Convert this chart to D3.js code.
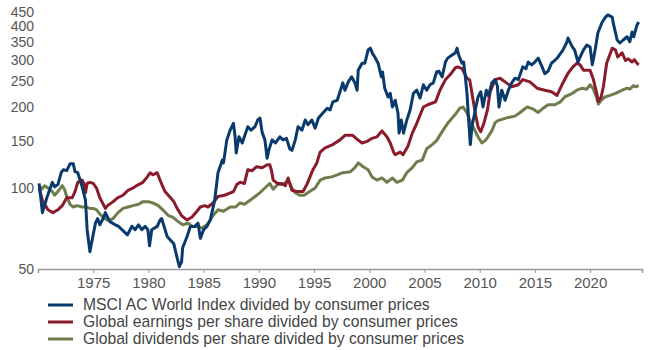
<!DOCTYPE html>
<html>
<head>
<meta charset="utf-8">
<script src="https://cdn.jsdelivr.net/npm/d3@7"></script>
<style>
  body { margin: 0; background: #fff; }
  svg { display: block; font-family: "Liberation Sans", Arial, sans-serif; }
</style>
</head>
<body>
<div id="chart"></div>
<script>
const msci = [
  [1970.1,104],[1970.4,81],[1970.8,92],[1971.3,105],[1971.5,101],[1971.8,103],[1972.1,114],[1972.3,117],
  [1972.6,116],[1972.9,123],[1973.2,123],[1973.35,115],[1973.6,114],[1974.0,101],[1974.3,90],[1974.45,70],
  [1974.7,58],[1974.9,64],[1975.2,74],[1975.4,77],[1975.6,73],[1975.9,77],[1976.1,81],[1976.5,75],
  [1977.0,73],[1977.3,72],[1977.6,70],[1978.1,67],[1978.5,72],[1978.8,70],[1979.1,73],[1979.4,70],
  [1979.7,72],[1979.95,70],[1980.1,61],[1980.3,70],[1980.8,72],[1981.05,76],[1981.2,77],[1981.7,66],
  [1982.0,64],[1982.3,62],[1982.6,55],[1982.8,51],[1983.0,53],[1983.1,60],[1983.5,66],[1983.8,72],
  [1984.2,72],[1984.5,74],[1984.7,65],[1985.0,70],[1985.3,72],[1985.6,76],[1986.0,90],[1986.3,114],
  [1986.7,127],[1986.8,124],[1987.1,151],[1987.4,164],[1987.7,174],[1987.85,155],[1987.95,135],[1988.2,155],
  [1988.5,147],[1988.8,160],[1989.0,169],[1989.3,164],[1989.65,169],[1989.9,179],[1990.1,182],[1990.3,161],
  [1990.55,151],[1990.75,129],[1990.9,138],[1991.2,151],[1991.5,147],[1991.9,155],[1992.2,151],[1992.5,153],
  [1992.8,140],[1993.0,138],[1993.3,151],[1993.55,169],[1993.9,164],[1994.2,179],[1994.45,172],[1994.8,179],
  [1995.1,167],[1995.4,182],[1995.8,190],[1996.2,198],[1996.45,195],[1996.7,209],[1997.1,212],[1997.35,228],
  [1997.6,246],[1997.8,231],[1998.1,248],[1998.4,259],[1998.7,246],[1998.9,231],[1999.0,274],[1999.35,291],
  [1999.6,291],[1999.9,326],[2000.1,331],[2000.3,316],[2000.5,307],[2000.8,291],[2001.1,259],[2001.2,270],
  [2001.4,235],[2001.7,218],[2001.9,225],[2002.1,200],[2002.35,212],[2002.6,190],[2002.7,160],[2002.9,179],
  [2003.1,160],[2003.4,179],[2003.7,195],[2004.0,225],[2004.3,231],[2004.6,216],[2004.9,242],[2005.2,231],
  [2005.5,242],[2005.8,246],[2006.1,270],[2006.3,272],[2006.6,259],[2006.9,294],[2007.1,304],[2007.5,312],
  [2007.8,318],[2007.95,331],[2008.1,312],[2008.4,291],[2008.55,294],[2008.7,259],[2008.85,225],[2009.0,179],
  [2009.15,145],[2009.3,169],[2009.6,195],[2009.85,218],[2010.1,228],[2010.3,200],[2010.6,231],[2010.8,220],
  [2011.1,246],[2011.4,253],[2011.6,240],[2011.75,200],[2012.0,231],[2012.3,212],[2012.6,231],[2012.9,246],
  [2013.2,256],[2013.5,253],[2013.9,282],[2014.2,278],[2014.4,294],[2014.7,287],[2015.0,294],[2015.3,304],
  [2015.65,282],[2015.9,266],[2016.2,272],[2016.5,291],[2016.8,298],[2017.1,307],[2017.55,326],[2017.9,349],
  [2018.0,361],[2018.4,334],[2018.6,326],[2018.9,294],[2019.1,307],[2019.4,326],[2019.7,340],[2020.0,334],
  [2020.2,287],[2020.5,334],[2020.7,377],[2021.1,414],[2021.4,432],[2021.6,440],[2022.0,432],[2022.1,410],
  [2022.45,355],[2022.7,346],[2023.0,355],[2023.35,365],[2023.6,350],[2023.8,380],[2023.95,365],[2024.25,404],
  [2024.4,414]
];

const earnings = [
  [1970.1,100],[1970.4,90],[1970.9,83],[1971.35,81],[1971.8,83],[1972.2,86],[1972.6,92],[1973.1,92],
  [1973.35,97],[1973.6,105],[1974.0,107],[1974.15,104],[1974.3,96],[1974.45,104],[1974.7,105],[1975.0,104],
  [1975.3,100],[1975.6,92],[1976.1,84],[1976.3,86],[1976.8,89],[1977.2,92],[1977.7,94],[1978.15,98],
  [1978.6,100],[1979.1,103],[1979.5,105],[1979.9,110],[1980.15,114],[1980.4,112],[1980.8,114],[1981.05,107],
  [1981.5,97],[1982.0,92],[1982.3,89],[1982.6,84],[1983.0,79],[1983.5,76],[1983.95,78],[1984.4,82],
  [1984.7,85],[1985.1,86],[1985.4,85],[1985.85,88],[1986.3,93],[1986.9,94],[1987.7,97],[1988.0,103],
  [1988.3,105],[1988.7,104],[1989.0,117],[1989.4,116],[1989.8,120],[1990.3,119],[1990.75,122],[1991.0,122],
  [1991.15,116],[1991.3,107],[1991.7,104],[1992.1,104],[1992.4,102],[1992.65,109],[1993.0,98],[1993.45,97],
  [1994.0,97],[1994.35,103],[1994.9,117],[1995.25,124],[1995.55,136],[1996.0,141],[1996.7,145],[1997.35,151],
  [1997.8,157],[1998.5,157],[1998.8,153],[1999.35,147],[1999.8,149],[2000.25,153],[2000.7,155],[2001.15,163],
  [2001.6,155],[2001.9,147],[2002.2,136],[2002.35,133],[2002.8,136],[2003.05,133],[2003.5,143],[2003.9,160],
  [2004.3,174],[2004.9,200],[2005.3,204],[2006.0,209],[2006.4,231],[2006.9,253],[2007.3,263],[2007.8,280],
  [2008.0,282],[2008.4,278],[2008.85,256],[2009.1,252],[2009.3,225],[2009.6,190],[2009.85,169],[2010.1,162],
  [2010.4,175],[2010.7,195],[2010.95,228],[2011.4,253],[2011.85,256],[2012.3,248],[2012.9,238],[2013.5,242],
  [2013.9,253],[2014.55,248],[2015.2,235],[2015.9,231],[2016.5,228],[2017.0,221],[2017.45,242],[2018.0,267],
  [2018.45,282],[2018.8,291],[2019.1,287],[2019.4,274],[2020.0,274],[2020.3,253],[2020.6,225],[2020.75,210],
  [2021.0,218],[2021.2,238],[2021.5,291],[2022.0,331],[2022.3,326],[2022.5,307],[2022.9,318],[2023.2,298],
  [2023.45,302],[2023.8,294],[2024.0,300],[2024.25,291],[2024.4,287]
];

const dividends = [
  [1970.1,102],[1970.35,99],[1970.6,102],[1970.9,100],[1971.3,97],[1971.5,94],[1971.8,97],[1972.2,102],
  [1972.4,99],[1972.6,93],[1972.9,87],[1973.2,85],[1973.5,86],[1974.0,85],[1974.3,85],[1974.7,84],
  [1975.0,84],[1975.3,83],[1975.6,80],[1975.9,78],[1976.25,76],[1976.5,76],[1976.8,77],[1977.25,81],
  [1977.7,84],[1978.15,85],[1978.6,86],[1979.1,87],[1979.5,89],[1980.0,89],[1980.4,88],[1980.9,86],
  [1981.3,83],[1981.8,79],[1982.2,78],[1982.7,75],[1983.1,73],[1983.6,74],[1984.0,72],[1984.5,72],
  [1984.85,71],[1985.3,73],[1985.85,79],[1986.3,83],[1986.8,82],[1987.4,85],[1987.9,85],[1988.3,88],
  [1988.7,87],[1989.2,90],[1989.65,93],[1990.1,96],[1990.55,100],[1991.0,104],[1991.3,99],[1991.7,103],
  [1992.2,103],[1992.65,107],[1993.0,100],[1993.3,96],[1993.7,94],[1994.1,94],[1994.6,97],[1995.1,100],
  [1995.55,107],[1996.0,109],[1996.6,110],[1997.1,112],[1997.6,114],[1998.3,115],[1998.7,119],[1999.0,124],
  [1999.45,120],[1999.9,117],[2000.25,110],[2000.7,107],[2001.15,109],[2001.6,105],[2002.1,109],[2002.5,105],
  [2003.0,107],[2003.4,114],[2003.9,119],[2004.3,125],[2004.8,127],[2005.2,140],[2005.7,145],[2006.1,150],
  [2006.6,162],[2007.1,174],[2007.8,188],[2008.2,198],[2008.5,200],[2008.85,190],[2009.1,179],[2009.4,169],
  [2009.85,155],[2010.2,147],[2010.5,150],[2010.75,155],[2011.1,163],[2011.4,175],[2011.65,178],[2012.0,180],
  [2012.6,183],[2013.2,185],[2013.6,190],[2014.3,200],[2014.8,197],[2015.3,191],[2015.75,198],[2016.2,204],
  [2016.8,204],[2017.3,209],[2017.7,218],[2018.4,225],[2018.8,231],[2019.3,235],[2019.7,233],[2020.0,242],
  [2020.3,233],[2020.6,216],[2020.75,205],[2021.0,212],[2021.35,218],[2021.8,221],[2022.3,225],[2022.9,231],
  [2023.35,235],[2023.6,233],[2023.9,240],[2024.1,238],[2024.4,240]
];

const yTicks = [50, 100, 150, 200, 250, 300, 350, 400, 450];
const xTicks = [1975, 1980, 1985, 1990, 1995, 2000, 2005, 2010, 2015, 2020];
const seriesNames = [
  'MSCI AC World Index divided by consumer prices',
  'Global earnings per share divided by consumer prices',
  'Global dividends per share divided by consumer prices'
];
const seriesColors = ['#093a6d', '#8a1b2c', '#6e7d4c'];

const width = 650, height = 350;

const svg = d3.select('#chart').append('svg')
    .attr('width', width)
    .attr('height', height);

const x = d3.scaleLinear()
    .domain([1970, 2024.7])
    .range([38, 642]);

const y = d3.scaleLog()
    .domain([50, 450])
    .range([269, 12.3]);

// Bottom axis
const xAxis = svg.append('g')
    .attr('transform', `translate(0, ${y(50)})`)
    .call(d3.axisBottom(x).tickValues(xTicks).tickFormat(d3.format('d')).tickSize(4).tickPadding(4));
xAxis.select('.domain').attr('stroke', '#999').attr('stroke-width', 1.5);
xAxis.selectAll('.tick line').attr('stroke', '#999');
xAxis.selectAll('.tick text')
    .attr('fill', '#555')
    .attr('font-size', 15)
    .attr('font-family', '"Liberation Sans", Arial, sans-serif');

// Left labels, no axis line
const yAxis = svg.append('g')
    .attr('transform', 'translate(34, 0)')
    .call(d3.axisLeft(y).tickValues(yTicks).tickFormat(d3.format('d')).tickSize(0).tickPadding(0));
yAxis.select('.domain').remove();
yAxis.selectAll('.tick text')
    .attr('fill', '#555')
    .attr('font-size', 14)
    .attr('font-family', '"Liberation Sans", Arial, sans-serif');

const line = d3.line()
    .x(d => x(d[0]))
    .y(d => y(d[1]));

const series = [msci, earnings, dividends];

// draw green, then red, then blue on top
[2, 1, 0].forEach(i => {
    svg.append('path')
        .datum(series[i])
        .attr('fill', 'none')
        .attr('stroke', seriesColors[i])
        .attr('stroke-width', 3)
        .attr('stroke-linejoin', 'round')
        .attr('d', line);
});

// Legend
const legend = svg.append('g').attr('class', 'legend');
seriesNames.forEach((name, i) => {
    const ly = 305 + i * 17;
    legend.append('line')
        .attr('x1', 48).attr('x2', 73)
        .attr('y1', ly).attr('y2', ly)
        .attr('stroke', seriesColors[i])
        .attr('stroke-width', 3);
    legend.append('text')
        .attr('x', 83)
        .attr('y', ly)
        .attr('dy', '0.35em')
        .attr('font-size', 15.7)
        .attr('fill', '#444')
        .text(name);
});
</script>
</body>
</html>
